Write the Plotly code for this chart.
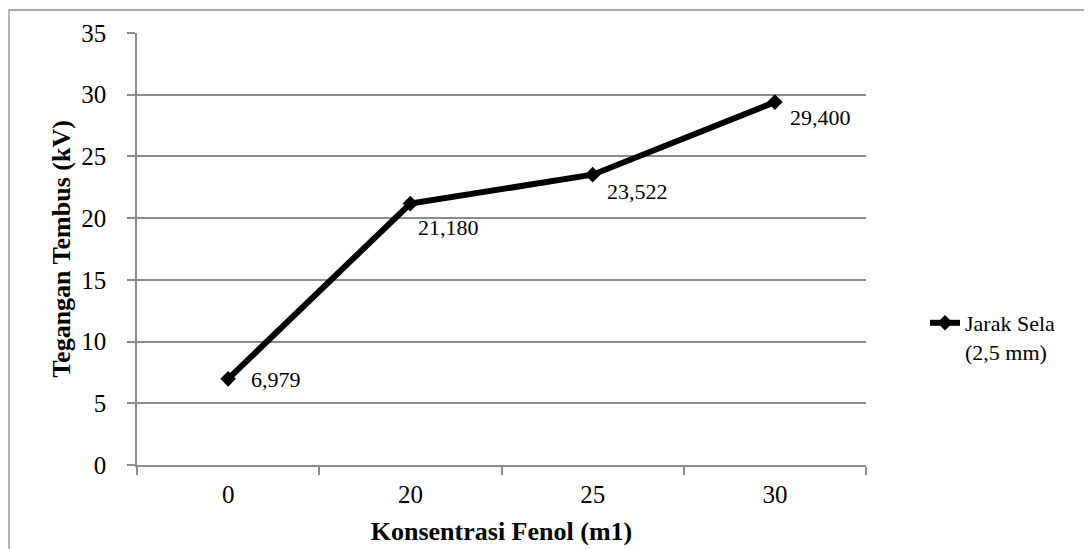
import plotly.graph_objects as go

categories = ["0", "20", "25", "30"]
values = [6.979, 21.180, 23.522, 29.400]
series_name = "Jarak Sela<br>(2,5 mm)"
y_ticks = [0, 5, 10, 15, 20, 25, 30, 35]

# label offsets (px) for data labels
label_dx = [21, 6, 12, 13]
label_dy = [-1, -24, -17, -15]

FONT = "Liberation Serif"
GRID = "#8c8c8c"

fig = go.Figure()
fig.add_trace(go.Scatter(
    x=categories, y=values, mode="lines+markers", name=series_name,
    line=dict(color="black", width=6),
    marker=dict(symbol="diamond", size=12, color="black"),
))

for i, (v, dx, dy) in enumerate(zip(values, label_dx, label_dy)):
    fig.add_annotation(
        x=i, y=v, text=f"{v:.3f}".replace(".", ","), showarrow=False,
        xanchor="left", yanchor="middle", xshift=dx, yshift=dy,
        font=dict(family=FONT, size=22, color="black"),
    )

# outer chart border (page body adds an 8px offset)
fig.add_shape(type="rect", xref="paper", yref="paper",
              x0=(9 - 137) / 729, x1=(1110 - 137) / 729,
              y0=(465 - 570) / 432, y1=(465 - 10) / 432,
              line=dict(color="#8c8c8c", width=1.3), layer="below")

fig.update_layout(
    width=1084, height=541,
    margin=dict(l=129, r=226, t=25, b=84, autoexpand=False),
    plot_bgcolor="white", paper_bgcolor="white",
    font=dict(family=FONT, color="black"),
    showlegend=True,
    legend=dict(x=(925 - 137) / 729, y=(465 - 302) / 432, xanchor="left", yanchor="top",
                valign="top", font=dict(family=FONT, size=22, color="black"),
                bgcolor="rgba(0,0,0,0)"),
    xaxis=dict(
        type="category", categoryorder="array", categoryarray=categories,
        range=[-0.5, len(categories) - 0.5], automargin=False,
        tickson="boundaries", ticks="outside", ticklen=8, tickangle=0,
        tickcolor=GRID, tickwidth=1.5, showline=True, linecolor=GRID, linewidth=1.5,
        showgrid=False, tickfont=dict(family=FONT, size=25, color="black"),
        ticklabelstandoff=6,
        title=dict(text="<b>Konsentrasi Fenol (m1)</b>", font=dict(family=FONT, size=26), standoff=15),
    ),
    yaxis=dict(
        range=[0, 35], tickvals=y_ticks, ticks="outside", ticklen=8, automargin=False,
        tickcolor=GRID, tickwidth=1.5, showline=True, linecolor=GRID, linewidth=1.5,
        showgrid=True, gridcolor=GRID, gridwidth=1.5, zeroline=False,
        tickfont=dict(family=FONT, size=25, color="black"),
        ticklabelstandoff=16,
        title=dict(text="<b>Tegangan Tembus (kV)</b>", font=dict(family=FONT, size=26), standoff=3),
    ),
)

fig.write_html("out.html")
